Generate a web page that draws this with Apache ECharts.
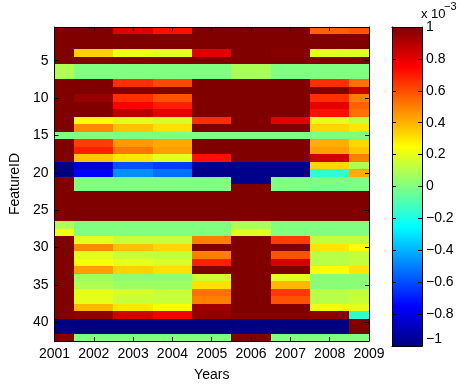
<!DOCTYPE html>
<html>
<head>
<meta charset="utf-8">
<script src="https://cdn.jsdelivr.net/npm/echarts@6/dist/echarts.min.js"></script>
<style>
  html, body { margin: 0; padding: 0; background: #fff; }
  #chart { width: 460px; height: 387px; }
</style>
</head>
<body>
<div id="chart"></div>
<script>
// Years along the x axis; one column of feature scores (x 10^-3) per year, FeatureID 1..42 top to bottom.
const years = [2001, 2002, 2003, 2004, 2005, 2006, 2007, 2008, 2009];
const yTicks = [5, 10, 15, 20, 25, 30, 35, 40];
const colorbarTicks = [-1, -0.8, -0.6, -0.4, -0.2, 0, 0.2, 0.4, 0.6, 0.8, 1];

const v2001 = [1, 1, 1, 1, 1, 0.09, 0.09, 1, 1, 1, 1, 1, 1, 1, 0, 1, 1, 1, -1, -1, 1,
               1, 1, 1, 1, 1, 0.09, 0.22, 1, 1, 1, 1, 1, 1, 1, 1, 1, 1, 1, -1, -1, 1];
const v2002 = [1, 1, 1, 0.34, 1, 0, 0, 1, 1, 0.95, 1, 1, 0.25, 0.48, 0, 0.63, 0.69, 0.36, -0.84, -0.75, 0,
               0, 1, 1, 1, 1, 0, 0, 0.2, 0.48, 0.19, 0.25, 0.44, 0.06, 0.09, 0.2, 0.2, 0.39, 0.98, -1, -1, 0];
const v2003 = [0.81, 1, 1, 0.22, 1, 0, 0, 0.66, 1, 0.66, 0.75, 0.89, 0.19, 0.37, 0, 0.45, 0.52, 0.3, -0.59, -0.47, 0,
               0, 1, 1, 1, 1, 0, 0, 0.14, 0.37, 0.14, 0.2, 0.34, 0.03, 0.06, 0.17, 0.14, 0.3, 0.84, -1, -1, 0];
const v2004 = [0.72, 1, 1, 0.2, 1, 0, 0, 0.61, 1, 0.59, 0.69, 0.8, 0.17, 0.31, 0, 0.42, 0.44, 0.2, -0.63, -0.53, 0,
               0, 1, 1, 1, 1, 0, 0, 0.14, 0.33, 0.13, 0.17, 0.31, 0.03, 0.06, 0.14, 0.14, 0.25, 0.78, -1, -1, 0];
const v2005 = [1, 1, 1, 0.81, 1, 0, 0, 1, 1, 1, 1, 1, 0.66, 1, 0, 1, 1, 0.72, -0.98, -0.98, 0,
               0, 1, 1, 1, 1, 0, 0, 0.5, 1, 0.5, 0.69, 1, 0.16, 0.31, 0.53, 0.5, 0.94, 0.97, -1, -1, 0];
const v2006 = [1, 1, 1, 1, 1, 0.08, 0.08, 1, 1, 1, 1, 1, 1, 1, 0, 1, 1, 1, -0.98, -0.98, -0.98,
               1, 1, 1, 1, 1, 0.09, 0.19, 1, 1, 1, 1, 1, 1, 1, 1, 1, 1, 1, -1, -1, 1];
const v2007 = [1, 1, 1, 0.98, 1, 0, 0, 1, 1, 1, 1, 1, 0.8, 1, 0, 1, 1, 1, -0.98, -0.98, 0,
               0, 1, 1, 1, 1, 0, 0, 0.63, 1, 0.59, 0.83, 1, 0.2, 0.39, 0.64, 0.59, 1, 1, -1, -1, 0];
const v2008 = [0.56, 1, 1, 0.2, 1, 0, 0, 0.66, 1, 0.66, 0.8, 0.72, 0.2, 0.33, 0, 0.41, 0.44, 0.84, 0.33, -0.16, 0,
               -0.02, 1, 1, 1, 1, 0, 0, 0.13, 0.3, 0.11, 0.11, 0.24, 0.02, 0.02, 0.11, 0.11, 0.22, 0.98, -1, -1, 0];
const v2009 = [0.59, 1, 1, 0.19, 1, 0, 0, 0.53, 0.86, 0.5, 0.56, 0.53, 0.13, 0.3, 0, 0.33, 0.36, 0.5, 0.09, 0.41, 0,
               0, 1, 1, 1, 1, 0, 0, 0.13, 0.25, 0.13, 0.13, 0.3, 0.02, 0.02, 0.13, 0.14, 0.2, -0.16, 1, 1, 0];

const columns = [v2001, v2002, v2003, v2004, v2005, v2006, v2007, v2008, v2009];

// Jet colour map, evenly spaced from -1 to 1
const jet = ['#000080', '#0000ff', '#0080ff', '#00ffff', '#80ff80', '#ffff00', '#ff8000', '#ff0000', '#800000'];

const cells = [];
years.forEach((yr, i) => {
  columns[i].forEach((v, j) => cells.push([yr, j + 1, v]));
});

const FONT = "'Liberation Sans', Arial, Helvetica, sans-serif";
const tickStyle = { color: '#000', width: 1 };
const lineStyle = { color: '#000', width: 1 };
const axisLine = { show: true, onZero: false, lineStyle };
const nRows = v2001.length;

const chart = echarts.init(document.getElementById('chart'), null, { renderer: 'canvas' });

chart.setOption({
  animation: false,
  backgroundColor: '#fff',
  textStyle: { fontFamily: FONT, color: '#000' },
  grid: [
    { left: 50, top: 27, width: 319, height: 319 },
    { left: 392, top: 27, width: 30, height: 319 }
  ],
  visualMap: {
    show: false,
    type: 'continuous',
    seriesIndex: 0,
    dimension: 2,
    min: -1,
    max: 1,
    inRange: { color: jet }
  },
  graphic: [
    { type: 'text', left: 421, top: 8, style: { text: 'x 10', font: '13px ' + FONT, fill: '#000' } },
    { type: 'text', left: 444, top: 1, style: { text: '\u22123', font: '11px ' + FONT, fill: '#000' } }
  ],
  xAxis: [
    {
      gridIndex: 0, type: 'value', min: 2001, max: 2009, interval: 1, position: 'bottom', z: 5,
      axisLine,
      axisTick: { show: true, inside: true, length: 4, lineStyle: tickStyle },
      axisLabel: { formatter: v => String(v), fontSize: 14, color: '#000', margin: 6, fontFamily: FONT },
      splitLine: { show: false },
      name: 'Years', nameLocation: 'middle', nameGap: 27,
      nameTextStyle: { fontSize: 14, color: '#000', fontFamily: FONT }
    },
    {
      gridIndex: 0, type: 'value', min: 2001, max: 2009, interval: 1, position: 'top', z: 5,
      axisLine,
      axisTick: { show: true, inside: true, length: 4, lineStyle: tickStyle },
      axisLabel: { show: false },
      splitLine: { show: false }
    },
    {
      gridIndex: 1, type: 'value', min: 0, max: 1, position: 'bottom', z: 5,
      axisLine,
      axisTick: { show: false }, axisLabel: { show: false }, splitLine: { show: false }
    },
    {
      gridIndex: 1, type: 'value', min: 0, max: 1, position: 'top', z: 5,
      axisLine,
      axisTick: { show: false }, axisLabel: { show: false }, splitLine: { show: false }
    }
  ],
  yAxis: [
    {
      gridIndex: 0, type: 'value', min: 0.5, max: nRows + 0.5, inverse: true, position: 'left', z: 5,
      axisLine,
      axisTick: { show: true, inside: true, length: 4, lineStyle: tickStyle, customValues: yTicks },
      axisLabel: { fontSize: 14, color: '#000', margin: 6, fontFamily: FONT, customValues: yTicks },
      splitLine: { show: false },
      name: 'FeatureID', nameLocation: 'middle', nameGap: 29, nameRotate: 90,
      nameTextStyle: { fontSize: 14, color: '#000', fontFamily: FONT }
    },
    {
      gridIndex: 0, type: 'value', min: 0.5, max: nRows + 0.5, inverse: true, position: 'right', z: 5,
      axisLine,
      axisTick: { show: true, inside: true, length: 4, lineStyle: tickStyle, customValues: yTicks },
      axisLabel: { show: false, customValues: yTicks },
      splitLine: { show: false }
    },
    {
      gridIndex: 1, type: 'value', min: -1, max: 1, interval: 0.2, position: 'right', z: 5,
      axisLine,
      axisTick: { show: true, inside: true, length: 4, lineStyle: tickStyle },
      axisLabel: {
        fontSize: 14, color: '#000', margin: 4, fontFamily: FONT,
        verticalAlignMinLabel: 'bottom',
        formatter: v => {
          const r = Math.round(v * 10) / 10;
          return r < 0 ? '\u2212' + Math.abs(r) : String(r);
        }
      },
      splitLine: { show: false }
    },
    {
      gridIndex: 1, type: 'value', min: -1, max: 1, interval: 0.2, position: 'left', z: 5,
      axisLine,
      axisTick: { show: true, inside: true, length: 4, lineStyle: tickStyle },
      axisLabel: { show: false },
      splitLine: { show: false }
    }
  ],
  series: [
    {
      type: 'custom',
      xAxisIndex: 0,
      yAxisIndex: 0,
      clip: true,
      dimensions: ['year', 'feature', 'value'],
      encode: { x: 0, y: 1 },
      data: cells,
      renderItem: (params, api) => {
        const yr = api.value(0), row = api.value(1);
        const a = api.coord([yr - 0.5, row - 0.5]);
        const b = api.coord([yr + 0.5, row + 0.5]);
        const x0 = Math.round(Math.min(a[0], b[0])), x1 = Math.round(Math.max(a[0], b[0]));
        const y0 = Math.round(Math.min(a[1], b[1])), y1 = Math.round(Math.max(a[1], b[1]));
        return {
          type: 'rect',
          shape: { x: x0, y: y0, width: x1 - x0, height: y1 - y0 },
          style: { fill: api.visual('color') }
        };
      }
    },
    {
      // colour bar
      type: 'custom',
      xAxisIndex: 2,
      yAxisIndex: 2,
      clip: true,
      data: [[0, colorbarTicks[0], colorbarTicks[colorbarTicks.length - 1]]],
      renderItem: (params, api) => {
        const top = api.coord([0, api.value(2)]);
        const bottom = api.coord([1, api.value(1)]);
        return {
          type: 'rect',
          shape: { x: top[0], y: top[1], width: bottom[0] - top[0], height: bottom[1] - top[1] },
          style: {
            fill: {
              type: 'linear', x: 0, y: 1, x2: 0, y2: 0,
              colorStops: jet.map((c, i) => ({ offset: i / (jet.length - 1), color: c }))
            }
          }
        };
      }
    }
  ]
});
</script>
</body>
</html>
